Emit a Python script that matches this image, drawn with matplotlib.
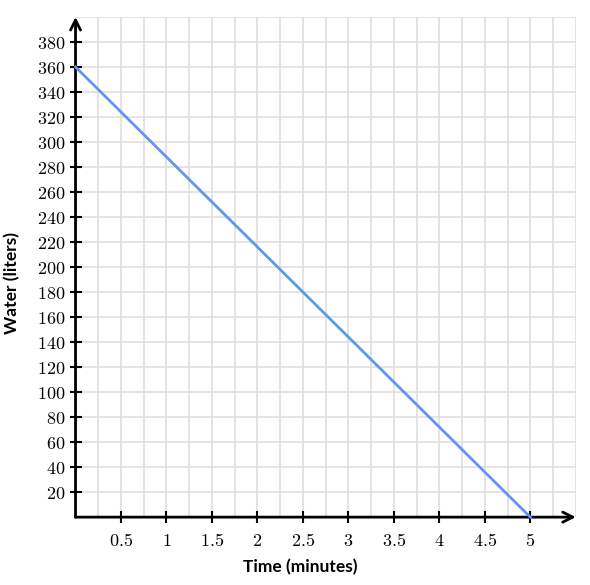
import matplotlib.pyplot as plt
import numpy as np

plt.rcParams['mathtext.fontset'] = 'cm'

time_min = [0, 5]
water_l = [360, 0]
x_ticks = [0.5, 1, 1.5, 2, 2.5, 3, 3.5, 4, 4.5, 5]
y_ticks = list(range(20, 381, 20))
x_max = 5.5
y_max = 400

fig = plt.figure(figsize=(5.9, 5.85), dpi=100)
ax = fig.add_axes([0.128, 0.116, 0.848, 0.855])

ax.set_xlim(0, x_max)
ax.set_ylim(0, y_max)

# grid lines every 0.25 min and 20 liters
for gx in np.arange(0.25, x_max + 0.01, 0.25):
    ax.axvline(gx, color='#dfdfdf', linewidth=1.2, zorder=0)
for gy in np.arange(20, y_max + 1, 20):
    ax.axhline(gy, color='#dfdfdf', linewidth=1.2, zorder=0)

ax.set_xticks(x_ticks)
ax.set_xticklabels(['$%g$' % v for v in x_ticks])
ax.set_yticks(y_ticks)
ax.set_yticklabels(['$%d$' % v for v in y_ticks])
ax.tick_params(which='major', direction='inout', length=9, width=1.5,
               labelsize=13, colors='black', pad=3)
ax.tick_params(axis='x', pad=6)

for s in ax.spines.values():
    s.set_visible(False)

# axes with arrows
ax.annotate('', xy=(x_max, 0), xytext=(0, 0),
            arrowprops=dict(arrowstyle='->', color='black', lw=2, mutation_scale=18,
                            shrinkA=0, shrinkB=0), annotation_clip=False)
ax.annotate('', xy=(0, y_max), xytext=(0, 0),
            arrowprops=dict(arrowstyle='->', color='black', lw=2, mutation_scale=18,
                            shrinkA=0, shrinkB=0), annotation_clip=False)

ax.plot(time_min, water_l, color='#6495ED', linewidth=2, clip_on=False, zorder=3)

fig.text(300 / 590, 1 - 567 / 585, 'Time (minutes)', fontfamily='Lato', fontweight='bold',
         fontsize=12.5, ha='center', va='center')
fig.text(12 / 590, 1 - 283 / 585, 'Water (liters)', fontfamily='Lato', fontweight='bold',
         fontsize=12.5, ha='center', va='center', rotation=90)

fig.savefig('out.png', dpi=100)
